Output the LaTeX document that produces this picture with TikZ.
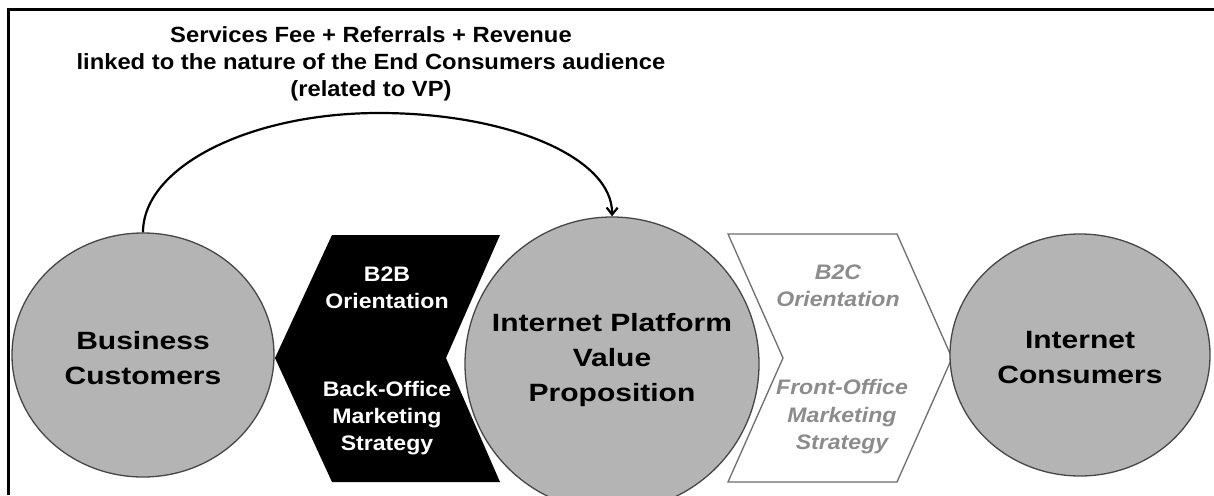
\documentclass[tikz,border=0pt]{standalone}
\usepackage{fontspec}
\setmainfont{Liberation Sans}
\newfontfamily\topfont{Liberation Sans}[FakeStretch=1.08]
\newfontfamily\circfont{Liberation Sans}[FakeStretch=1.2]
\newfontfamily\chevfont{Liberation Sans}[FakeStretch=1.1]
\usetikzlibrary{shapes.geometric,arrows.meta}
\definecolor{circfill}{RGB}{180,180,180}
\definecolor{circline}{RGB}{70,70,70}
\definecolor{fogray}{RGB}{140,140,140}
\definecolor{chevline}{RGB}{110,110,110}
\begin{document}
\begin{tikzpicture}[x=1pt,y=-1pt,
  bubble/.style={ellipse, draw=circline, line width=1.3pt, fill=circfill, inner sep=0pt},
  circtext/.style={align=center, inner sep=0pt, font=\circfont\bfseries\fontsize{25}{35}\selectfont},
  toptext/.style={align=center, inner sep=0pt, font=\topfont\bfseries\fontsize{22}{27}\selectfont},
  b2btext/.style={align=center, inner sep=0pt, text=white, font=\chevfont\bfseries\fontsize{21}{27}\selectfont},
  b2ctext/.style={align=center, inner sep=0pt, text=fogray, font=\chevfont\bfseries\itshape\fontsize{21}{27.5}\selectfont},
  flow/.style={line width=2.2pt, -{Straight Barb[length=7pt,width=11pt]}}
]
\clip (0,0) rectangle (1214,495);
\fill[white] (0,0) rectangle (1214,495);
\draw[line width=3pt] (8,495) -- (8,10) -- (1214,10);
% chevrons
\fill[black] (275,358) -- (332,235) -- (500,235) -- (446,358) -- (500,482) -- (332,482) -- cycle;
\draw[chevline, line width=1.3pt, fill=white] (728,234) -- (897,234) -- (952,358) -- (897,482) -- (728,482) -- (783,358) -- cycle;
% circles
\node[bubble, minimum width=262pt, minimum height=244pt] (bc) at (143,355) {};
\node[bubble, minimum width=294pt, minimum height=294pt] (ip) at (612,364) {};
\node[bubble, minimum width=260pt, minimum height=242pt] (ic) at (1080,355) {};
\node[circtext] (bct) at (143,358) {Business\\Customers};
\node[circtext] (ipt) at (612,360) {Internet Platform\\Value\\Proposition};
\node[circtext] (ict) at (1080,358) {Internet\\Consumers};
% arrow
\coordinate (peak) at (379,113);
\draw[flow] (bc.north) .. controls (143,167) and (249,113) .. (peak) .. controls (509,113) and (613,158) .. (ip.north);
% texts
\node[toptext] (fee) at (371,63.5) {Services Fee + Referrals + Revenue\\linked to the nature of the End Consumers audience\\(related to VP)};
\node[b2btext] (b2b) at (387,288) {B2B\\Orientation};
\node[b2btext] (bo) at (387,418) {Back-Office\\Marketing\\Strategy};
\node[b2ctext] (b2c) at (838,286) {B2C\\Orientation};
\node[b2ctext] (fo) at (842,417) {Front-Office\\Marketing\\Strategy};
\end{tikzpicture}
\end{document}
